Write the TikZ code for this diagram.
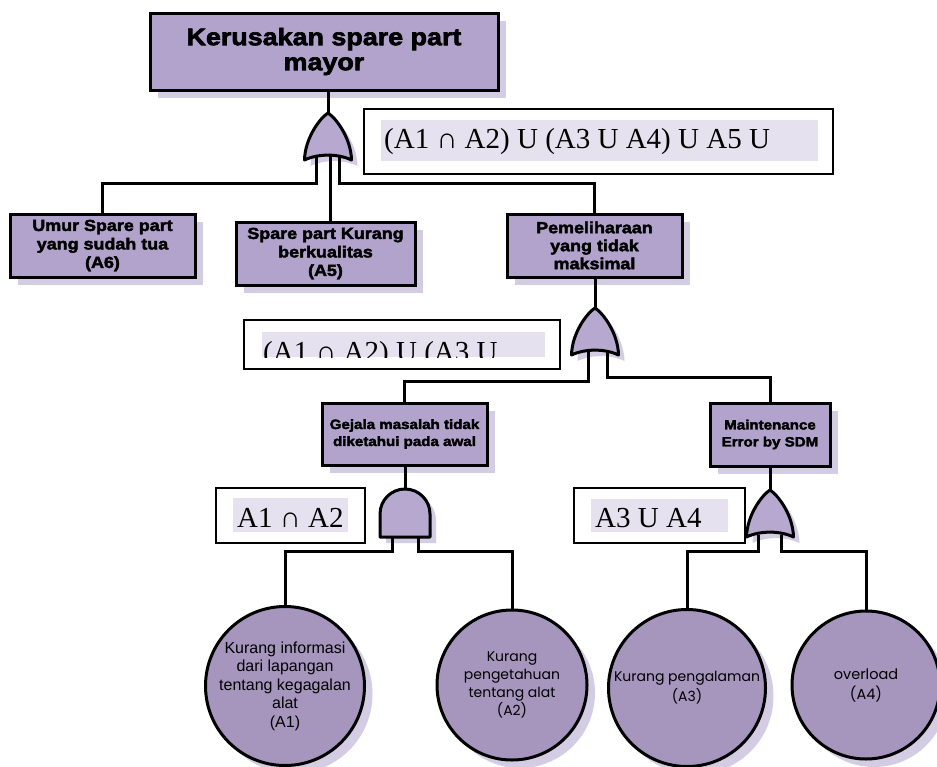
\documentclass[tikz,border=0pt]{standalone}
\usepackage{fontspec}
\setmainfont{Liberation Serif}
\newfontfamily\arialf{Liberation Sans}
\newfontfamily\blackf[FakeStretch=1.12, BoldFeatures={FakeBold=2.6}]{Liberation Sans}
\newfontfamily\gothf{Poppins}
\usetikzlibrary{shadows}
\pgfdeclarelayer{bg}
\pgfsetlayers{bg,main}
\definecolor{boxfill}{RGB}{178,163,204}
\definecolor{circfill}{RGB}{166,150,190}
\definecolor{gatefill}{RGB}{182,168,206}
\definecolor{shadowc}{RGB}{212,204,227}
\definecolor{hlc}{RGB}{230,225,239}
\tikzset{
 shad/.style={drop shadow={shadow xshift=8pt, shadow yshift=-8pt, fill=shadowc, opacity=1}},
 box/.style={shad, draw=black, line width=3pt, fill=boxfill, align=center, inner sep=0pt},
 ev/.style={shad, circle, draw=black, line width=3pt, fill=circfill, align=center, inner sep=0pt},
 tbox/.style={draw=black, line width=2pt, fill=white, inner sep=0pt},
 hl/.style={fill=hlc, draw=none, inner sep=0pt},
 conn/.style={draw=black, line width=3pt},
 connsh/.style={draw=shadowc, line width=3pt, transform canvas={xshift=8pt,yshift=-8pt}},
 orgate/.pic={
  \fill[shadowc, shift={(6,6)}] (0,0) .. controls (8,5) and (23,25) .. (23.5,47) .. controls (10,40.5) and (-10,40.5) .. (-23.5,47) .. controls (-23,25) and (-8,5) .. cycle;
  \draw[line width=3pt, fill=gatefill, line join=round] (0,0) .. controls (8,5) and (23,25) .. (23.5,47) .. controls (10,40.5) and (-10,40.5) .. (-23.5,47) .. controls (-23,25) and (-8,5) .. cycle;
 },
 andgate/.pic={
  \fill[shadowc, shift={(6,6)}] (-25,48) -- (-25,25) .. controls (-25,11.2) and (-13.8,0) .. (0,0) .. controls (13.8,0) and (25,11.2) .. (25,25) -- (25,48) -- cycle;
  \draw[line width=3pt, fill=gatefill, line join=round] (-25,48) -- (-25,25) .. controls (-25,11.2) and (-13.8,0) .. (0,0) .. controls (13.8,0) and (25,11.2) .. (25,25) -- (25,48) -- cycle;
 },
}
\begin{document}
\begin{tikzpicture}[x=1pt,y=-1pt]
\useasboundingbox[fill=white] (0,0) rectangle (937,766);

% boxes
\node[box, minimum width=348pt, minimum height=77pt, font=\blackf\bfseries\fontsize{24}{25}\selectfont] (top) at (324,51.5) {Kerusakan spare part\\mayor};
\node[box, minimum width=185pt, minimum height=63pt, font=\blackf\bfseries\fontsize{16}{18.5}\selectfont] (a6) at (102.5,245.5) {Umur Spare part\\yang sudah tua\\(A6)};
\node[box, minimum width=179pt, minimum height=63pt, font=\blackf\bfseries\fontsize{16}{18.5}\selectfont] (a5) at (325.5,253.5) {Spare part Kurang\\berkualitas\\(A5)};
\node[box, minimum width=175pt, minimum height=63pt, font=\blackf\bfseries\fontsize{16}{18}\selectfont] (pem) at (594.5,245.5) {Pemeliharaan\\yang tidak\\maksimal};
\node[box, minimum width=165pt, minimum height=62pt, font=\blackf\bfseries\fontsize{13.5}{17}\selectfont] (gej) at (404.5,434) {Gejala masalah tidak\\diketahui pada awal};
\node[box, minimum width=120pt, minimum height=63pt, font=\blackf\bfseries\fontsize{13.5}{17}\selectfont] (mnt) at (770,434.5) {Maintenance\\Error by SDM};

% events
\node[ev, minimum size=156pt, font=\arialf\fontsize{16}{18.5}\selectfont] (a1) at (285,686) {Kurang informasi\\dari lapangan\\tentang kegagalan\\alat\\(A1)};
\node[ev, minimum size=150pt, font=\gothf\fontsize{14}{18}\selectfont] (a2) at (512,685) {Kurang\\pengetahuan\\tentang alat\\(A2)};
\node[ev, minimum size=157pt, font=\gothf\fontsize{14}{20}\selectfont] (a3) at (687,688) {Kurang pengalaman\\(A3)};
\node[ev, minimum size=148pt, font=\gothf\fontsize{14.5}{20}\selectfont] (a4) at (866,685) {overload\\(A4)};

% expression boxes
\node[tbox, minimum width=469pt, minimum height=65pt] (t1) at (598.5,141.5) {};
\node[hl, minimum width=437pt, minimum height=41pt] (h1) at (599.5,140.5) {};
\node[anchor=base west, inner sep=0pt, font=\fontsize{29}{29}\selectfont] (e1) at (384,148) {(A1 ∩ A2) U (A3 U A4) U A5 U};

\node[tbox, minimum width=316pt, minimum height=49pt] (t2) at (402,344.5) {};
\node[hl, minimum width=283pt, minimum height=25pt] (h2) at (403.5,344.5) {};
\begin{scope}
\clip (244,320) rectangle (560,357);
\node[anchor=base west, inner sep=0pt, font=\fontsize{29}{29}\selectfont] (e2) at (263,361) {(A1 ∩ A2) U (A3 U};
\end{scope}

\node[tbox, minimum width=149pt, minimum height=55pt] (t3) at (290.5,515.5) {};
\node[hl, minimum width=115pt, minimum height=34pt] (h3) at (290.5,515) {};
\node[anchor=base west, inner sep=0pt, font=\fontsize{29}{29}\selectfont] (e3) at (237,527) {A1 ∩ A2};

\node[tbox, minimum width=171pt, minimum height=55pt] (t4) at (659.5,515.5) {};
\node[hl, minimum width=137pt, minimum height=33pt] (h4) at (659.5,515.5) {};
\node[anchor=base west, inner sep=0pt, font=\fontsize{29}{29}\selectfont] (e4) at (595,527) {A3 U A4};

% gates
\pic at (328,113) {orgate};
\pic at (595,308) {orgate};
\pic at (770,490) {orgate};
\pic at (405,489) {andgate};

\coordinate (g1tip) at (328,113);
\coordinate (g1l) at (316,156);
\coordinate (g1m) at (330,154);
\coordinate (g1r) at (339,156);
\coordinate (y1) at (0,183);
\coordinate (g2tip) at (595,308);
\coordinate (g2l) at (588,352);
\coordinate (g2r) at (607,352);
\coordinate (y2a) at (0,381);
\coordinate (y2b) at (0,377);
\coordinate (andtop) at (405,489);
\coordinate (al) at (392,537);
\coordinate (ar) at (418,537);
\coordinate (y3) at (0,551);
\coordinate (g3tip) at (770,490);
\coordinate (g3l) at (758,535);
\coordinate (g3r) at (781,535);

% connectors
\foreach \st/\ly in {connsh/bg, conn/main}{
\begin{pgfonlayer}{\ly}
\draw[\st] (top.south -| g1tip) -- (g1tip);
\draw[\st] (g1l) -- (g1l |- y1) -| (a6.north);
\draw[\st] (g1m) -- (g1m |- a5.north);
\draw[\st] (g1r) -- (g1r |- y1) -| (pem.north);
\draw[\st] (pem.south -| g2tip) -- (g2tip);
\draw[\st] (g2l) -- (g2l |- y2a) -| (gej.north);
\draw[\st] (g2r) -- (g2r |- y2b) -| (mnt.north);
\draw[\st] (gej.south -| andtop) -- (andtop);
\draw[\st] (al) -- (al |- y3) -| (a1.north);
\draw[\st] (ar) -- (ar |- y3) -| (a2.north);
\draw[\st] (mnt.south -| g3tip) -- (g3tip);
\draw[\st] (g3l) -- (g3l |- y3) -| (a3.north);
\draw[\st] (g3r) -- (g3r |- y3) -| (a4.north);
\end{pgfonlayer}
}
\end{tikzpicture}
\end{document}
